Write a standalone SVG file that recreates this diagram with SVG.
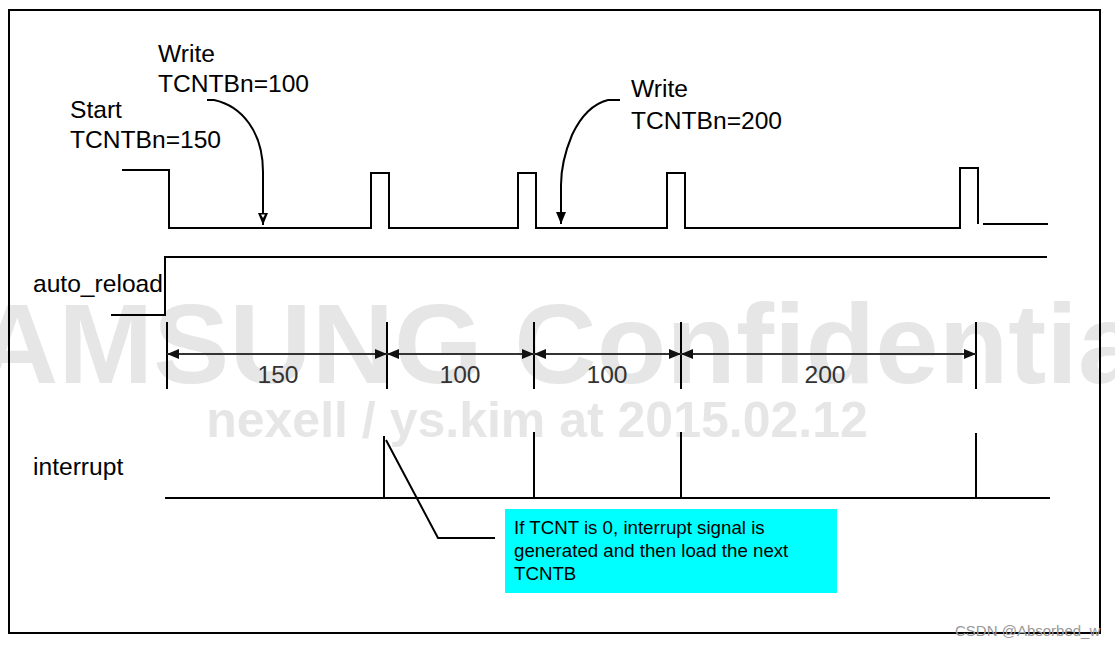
<svg xmlns="http://www.w3.org/2000/svg" width="1115" height="646" viewBox="0 0 1115 646">
<style>
.wm{font-family:"Liberation Sans",Arial,sans-serif;font-weight:bold;fill:#e6e6e6}
.t{font-family:"Liberation Sans",Arial,sans-serif;font-size:24.6px;fill:#000}
.d{font-family:"Liberation Sans",Arial,sans-serif;font-size:24.6px;fill:#333}
.s{fill:none;stroke:#000;stroke-width:2}
.dim{fill:none;stroke:#333;stroke-width:2}
.note{font-family:"Liberation Sans",Arial,sans-serif;font-size:18.7px;fill:#000}
</style>
<defs>
<marker id="ah" viewBox="0 0 12 10" refX="12" refY="5" markerWidth="12" markerHeight="10" markerUnits="userSpaceOnUse" orient="auto">
<path d="M0,0 L12,5 L0,10 Z" fill="#000"/>
</marker>
<marker id="ahs" viewBox="0 0 12 10" refX="12" refY="5" markerWidth="12" markerHeight="10" markerUnits="userSpaceOnUse" orient="auto-start-reverse">
<path d="M0,0 L12,5 L0,10 Z" fill="#111"/>
</marker>
</defs>
<rect width="1115" height="646" fill="#fff"/>
<g id="watermark">
<text class="wm" x="-100" y="383" font-size="114">SAMSUNG Confidential</text>
<text class="wm" x="537" y="437" font-size="50" text-anchor="middle">nexell / ys.kim at 2015.02.12</text>
</g>
<g id="frame"><rect x="9" y="10" width="1091" height="623" fill="none" stroke="#000" stroke-width="2"/></g>
<g id="labels">
<text class="t" x="70" y="118">Start</text>
<text class="t" x="70" y="148">TCNTBn=150</text>
<text class="t" x="158" y="62">Write</text>
<text class="t" x="158" y="92">TCNTBn=100</text>
<text class="t" x="631" y="97">Write</text>
<text class="t" x="631" y="129">TCNTBn=200</text>
<text class="t" x="33" y="292">auto_reload</text>
<text class="t" x="33" y="475">interrupt</text>
</g>
<g id="signal-tcnt">
<path class="s" d="M122,170 H169 V228 H371 V173 H389 V228 H518 V173 H536 V228 H667 V173 H685 V228 H960 V168 H978 V224"/>
<path class="s" d="M983,224 H1048"/>
</g>
<g id="signal-auto-reload">
<path class="s" d="M111,315 H165 V257 H1047"/>
</g>
<g id="signal-interrupt">
<path class="s" d="M165,498 H1050"/>
<path class="s" d="M384,436 V498 M534,432 V498 M681,432 V498 M976,433 V498"/>
</g>
<g id="dimensions">
<path class="s" d="M167,322 V389 M387,322 V389 M534,322 V389 M681,322 V389 M976,322 V389"/>
<path class="dim" d="M167,354 H387" marker-start="url(#ahs)" marker-end="url(#ahs)"/>
<path class="dim" d="M387,354 H534" marker-start="url(#ahs)" marker-end="url(#ahs)"/>
<path class="dim" d="M534,354 H681" marker-start="url(#ahs)" marker-end="url(#ahs)"/>
<path class="dim" d="M681,354 H976" marker-start="url(#ahs)" marker-end="url(#ahs)"/>
<text class="d" x="278" y="383" text-anchor="middle">150</text>
<text class="d" x="460" y="383" text-anchor="middle">100</text>
<text class="d" x="607" y="383" text-anchor="middle">100</text>
<text class="d" x="825" y="383" text-anchor="middle">200</text>
</g>
<g id="connectors">
<path class="s" d="M207,100 H214 C242,106 263,132 263,172 V225" marker-end="url(#ah)"/>
<path d="M261,214.5 L265,214.5 L263,218 Z" fill="#fff"/>
<path class="s" d="M620,100 H608 C592,104 580,118 572,135 C565,152 561,168 561,185 V224" marker-end="url(#ah)"/>
<path class="s" d="M386,440 L438,538 H495"/>
</g>
<g id="note">
<rect x="505" y="509" width="332" height="84" fill="#00ffff"/>
<text class="note" x="514" y="534">If TCNT is 0, interrupt signal is</text>
<text class="note" x="514" y="557">generated and then load the next</text>
<text class="note" x="514" y="580">TCNTB</text>
</g>
<g id="credit">
<text x="955" y="636" font-family="'Liberation Sans',Arial,sans-serif" font-size="15" fill="#999">CSDN @Absorbed_w</text>
</g>
</svg>
